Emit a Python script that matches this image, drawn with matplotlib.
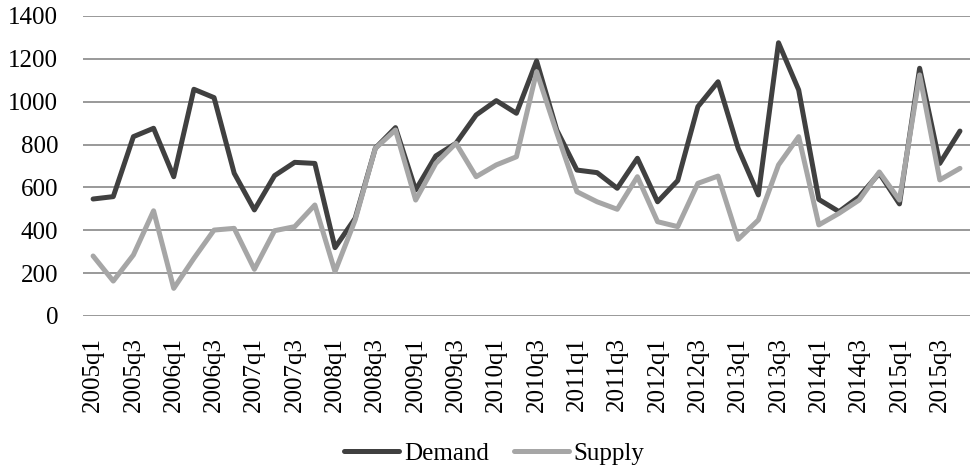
import matplotlib
matplotlib.use("Agg")
import matplotlib.pyplot as plt
import numpy as np

# quarterly data 2005q1 - 2015q4
quarters = [f"{y}q{q}" for y in range(2005, 2016) for q in range(1, 5)]
demand = [546, 557, 837, 876, 650, 1058, 1019, 666, 495, 655, 717, 712,
          319, 456, 783, 879, 588, 747, 806, 938, 1005, 946, 1190, 868,
          681, 669, 596, 736, 533, 632, 977, 1093, 782, 565, 1275, 1055,
          544, 487, 557, 666, 523, 1156, 712, 863]
supply = [280, 163, 285, 491, 129, 269, 401, 409, 218, 398, 417, 518,
          207, 448, 782, 868, 541, 712, 806, 650, 705, 743, 1140, 855,
          580, 533, 498, 650, 440, 417, 619, 653, 358, 448, 705, 837,
          425, 479, 541, 672, 541, 1125, 635, 689]
yticks = [0, 200, 400, 600, 800, 1000, 1200, 1400]

plt.rcParams['font.family'] = ['Liberation Serif', 'DejaVu Serif']

fig = plt.figure(figsize=(9.71, 4.66), dpi=100)
ax = fig.add_axes([0.0855, 0.3219, 0.9135, 0.6438])

x = np.arange(len(quarters))
ax.plot(x, demand, color='#404040', linewidth=3.6, solid_joinstyle='round',
        solid_capstyle='round', label='Demand', zorder=3)
ax.plot(x, supply, color='#A6A6A6', linewidth=3.6, solid_joinstyle='round',
        solid_capstyle='round', label='Supply', zorder=3)

ax.set_xlim(-0.5, len(quarters) - 0.5)
ax.set_ylim(0, 1400)
ax.set_yticks(yticks)
ax.set_xticks(x[::2])
ax.set_xticklabels(quarters[::2], rotation=90)
ax.tick_params(axis='both', length=0, labelsize=18)
ax.tick_params(axis='y', pad=18)
ax.tick_params(axis='x', pad=15)
ax.grid(axis='y', color='#888888', linewidth=1.2)
ax.set_axisbelow(True)
for s in ['top', 'right', 'left', 'bottom']:
    ax.spines[s].set_visible(False)

fig.legend(loc='center', bbox_to_anchor=(0.509, 0.026), ncol=2, frameon=False,
           fontsize=18, handlelength=2.2, handletextpad=0.2, columnspacing=1.0)

plt.savefig('out.png', dpi=100)
